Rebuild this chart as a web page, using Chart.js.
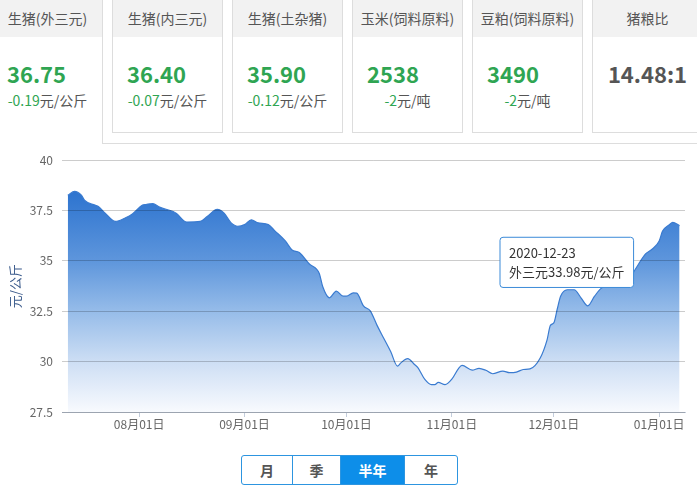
<!DOCTYPE html>
<html>
<head>
<meta charset="utf-8">
<script src="https://cdn.jsdelivr.net/npm/chart.js@4/dist/chart.umd.min.js"></script>
<style>
  html, body { margin: 0; padding: 0; background: #fff; }
  body { width: 697px; height: 487px; overflow: hidden; position: relative;
         font-family: "Noto Sans CJK SC", "Microsoft YaHei", sans-serif; color: #555; }
  .card { position: absolute; top: -2px; width: 111px; height: 135px; box-sizing: border-box;
          border: 1px solid #ddd; background: #fff; }
  .card.active { height: 146px; border-bottom: none; }
  .card .hd { height: 38px; line-height: 38px; background: #f2f2f2; text-align: center;
              font-size: 14px; color: #555; white-space: nowrap; }
  .card .num { position: absolute; left: 14px; top: 59px; line-height: 30px; font-size: 22px;
               font-weight: bold; color: #2fa552; white-space: nowrap; }
  .card .num.ratio { left: 0; right: 0; text-align: center; color: #555; }
  .card .chg { position: absolute; left: 0; right: 0; top: 91px; line-height: 20px; text-align: center;
               font-size: 14px; color: #555; white-space: nowrap; }
  .card .chg .g { color: #2fa552; }
  #panelLine { position: absolute; left: 102px; top: 143px; width: 600px; border-top: 1px solid #ddd; }
  #chartBox { position: absolute; left: 0; top: 144px; width: 697px; height: 288px; }
  #btns { position: absolute; left: 241px; top: 455px; height: 30px; display: flex;
          border: 1px solid #2d95e0; border-radius: 3px; box-sizing: border-box; overflow: hidden; }
  #btns div { height: 28px; line-height: 28px; text-align: center; font-size: 14px; font-weight: bold;
              color: #555; border-left: 1px solid #2d95e0; box-sizing: border-box; }
  #btns div:first-child { border-left: none; }
  #btns div.on { background: #0d8ee9; color: #fff; }
</style>
</head>
<body>
<div id="cards"></div>
<div id="panelLine"></div>
<div id="chartBox"><canvas id="c" width="697" height="288"></canvas></div>
<div id="btns"></div>
<script>
// Quote cards
const cardTitles  = ['生猪(外三元)', '生猪(内三元)', '生猪(土杂猪)', '玉米(饲料原料)', '豆粕(饲料原料)', '猪粮比'];
const cardValues  = ['36.75', '36.40', '35.90', '2538', '3490', '14.48:1'];
const cardChanges = ['-0.19', '-0.07', '-0.12', '-2', '-2', ''];
const cardUnits   = ['元/公斤', '元/公斤', '元/公斤', '元/吨', '元/吨', ''];

// Period switch buttons
const periodNames = ['月', '季', '半年', '年'];
const activePeriod = '半年';

// Daily price of 外三元 live hogs (元/公斤)
const dates = [
  '2020-07-11','2020-07-13','2020-07-15','2020-07-16','2020-07-19','2020-07-20','2020-07-22','2020-07-25',
  '2020-07-28','2020-07-30','2020-08-02','2020-08-03','2020-08-05','2020-08-07','2020-08-11','2020-08-12',
  '2020-08-15','2020-08-19','2020-08-21','2020-08-24','2020-08-26','2020-08-28','2020-08-30','2020-09-01',
  '2020-09-03','2020-09-05','2020-09-08','2020-09-10','2020-09-13','2020-09-15','2020-09-17','2020-09-18',
  '2020-09-20','2020-09-23','2020-09-24','2020-09-26','2020-09-28','2020-09-30','2020-10-01','2020-10-03',
  '2020-10-04','2020-10-06','2020-10-08','2020-10-10','2020-10-12','2020-10-14','2020-10-16','2020-10-17',
  '2020-10-19','2020-10-21','2020-10-22','2020-10-24','2020-10-26','2020-10-27','2020-10-28','2020-10-30',
  '2020-11-01','2020-11-03','2020-11-04','2020-11-07','2020-11-09','2020-11-11','2020-11-13','2020-11-16',
  '2020-11-18','2020-11-20','2020-11-22','2020-11-24','2020-11-27','2020-11-29','2020-11-30','2020-12-01',
  '2020-12-02','2020-12-03','2020-12-05','2020-12-07','2020-12-09','2020-12-11','2020-12-13','2020-12-15',
  '2020-12-18','2020-12-20','2020-12-23','2020-12-24','2020-12-26','2020-12-28','2020-12-30','2021-01-01',
  '2021-01-02','2021-01-04','2021-01-05','2021-01-07'
];
const prices = [
  38.26, 38.45, 38.26, 38.00, 37.77, 37.70, 37.37, 36.96,
  37.14, 37.33, 37.77, 37.80, 37.85, 37.67, 37.45, 37.35,
  36.93, 36.96, 37.20, 37.56, 37.37, 36.90, 36.72, 36.80,
  37.04, 36.89, 36.80, 36.48, 35.99, 35.54, 35.43, 35.27,
  34.86, 34.38, 33.73, 33.17, 33.50, 33.25, 33.25, 33.41,
  33.40, 32.77, 32.52, 31.80, 31.15, 30.50, 29.78, 29.94,
  30.15, 29.86, 29.70, 29.13, 28.86, 28.86, 28.97, 28.86,
  29.13, 29.67, 29.81, 29.58, 29.67, 29.57, 29.40, 29.53,
  29.45, 29.48, 29.61, 29.64, 30.18, 31.07, 31.80, 31.92,
  32.60, 33.25, 33.57, 33.57, 33.17, 32.77, 33.25, 33.65,
  33.80, 33.90, 33.98, 34.30, 34.86, 35.35, 35.59, 35.99,
  36.48, 36.80, 36.91, 36.75
];

// Month-start ticks on the date axis
const tickDates  = ['2020-08-01', '2020-09-01', '2020-10-01', '2020-11-01', '2020-12-01', '2021-01-01'];
const tickLabels = ['08月01日', '09月01日', '10月01日', '11月01日', '12月01日', '01月01日'];

// Value axis ticks
const yTicks = [27.5, 30, 32.5, 35, 37.5, 40];

const highlightDate = '2020-12-23';

// ---- cards ----
const cardsEl = document.getElementById('cards');
cardTitles.forEach((title, i) => {
  const card = document.createElement('div');
  card.className = 'card' + (i === 0 ? ' active' : '');
  card.style.left = (-8 + 120 * i) + 'px';
  const hd = document.createElement('div');
  hd.className = 'hd';
  hd.textContent = title;
  card.appendChild(hd);
  const num = document.createElement('div');
  num.className = 'num' + (cardChanges[i] ? '' : ' ratio');
  num.textContent = cardValues[i];
  card.appendChild(num);
  if (cardChanges[i]) {
    const chg = document.createElement('div');
    chg.className = 'chg';
    const g = document.createElement('span');
    g.className = 'g';
    g.textContent = cardChanges[i];
    chg.appendChild(g);
    chg.appendChild(document.createTextNode(cardUnits[i]));
    card.appendChild(chg);
  }
  cardsEl.appendChild(card);
});

// ---- buttons ----
const btnWidths = [50, 48, 64, 53];
const btnsEl = document.getElementById('btns');
periodNames.forEach((name, i) => {
  const b = document.createElement('div');
  b.textContent = name;
  b.style.width = btnWidths[i] + 'px';
  if (name === activePeriod) b.className = 'on';
  btnsEl.appendChild(b);
});

// ---- chart ----
const DAY = 86400000;
function dayNum(s) {
  const [y, m, d] = s.split('-').map(Number);
  return Date.UTC(y, m - 1, d) / DAY;
}
const day0 = dayNum(dates[0]);
const xOf = s => dayNum(s) - day0;
const points = dates.map((d, i) => ({ x: xOf(d), y: prices[i] }));
const tickDays = tickDates.map(xOf);

const FONT = '"Noto Sans CJK SC", "Microsoft YaHei", sans-serif';

Chart.Tooltip.positioners.nearPoint = function (items) {
  if (!items.length) return false;
  const el = items[0].element;
  return { x: el.x + 2, y: el.y + 6, xAlign: 'right', yAlign: 'bottom' };
};

function areaGradient(context) {
  const chart = context.chart;
  const area = chart.chartArea;
  if (!area) return 'rgba(60,130,215,0.5)';
  const g = chart.ctx.createLinearGradient(0, area.top, 0, area.bottom);
  g.addColorStop(0.0, 'rgb(40,110,204)');
  g.addColorStop(0.12, 'rgb(44,115,207)');
  g.addColorStop(0.40, 'rgb(94,150,220)');
  g.addColorStop(0.60, 'rgb(150,188,233)');
  g.addColorStop(0.80, 'rgb(205,222,244)');
  g.addColorStop(1.0, 'rgb(248,250,254)');
  return g;
}

const chart = new Chart(document.getElementById('c'), {
  type: 'line',
  data: {
    datasets: [{
      label: '外三元',
      data: points,
      borderColor: '#3a7bd0',
      borderWidth: 1.2,
      backgroundColor: areaGradient,
      fill: 'start',
      cubicInterpolationMode: 'monotone',
      pointRadius: 0,
      pointHoverRadius: 5,
      pointHoverBackgroundColor: 'rgba(255,255,255,0.6)',
      pointHoverBorderColor: 'rgba(170,200,236,0.9)',
      pointHoverBorderWidth: 1
    }]
  },
  options: {
    responsive: false,
    animation: false,
    events: [],
    layout: { padding: { top: 10, right: 12, bottom: 0, left: 0 } },
    plugins: {
      legend: { display: false },
      tooltip: {
        enabled: true,
        position: 'nearPoint',
        xAlign: 'right',
        yAlign: 'bottom',
        caretSize: 0,
        caretPadding: 0,
        cornerRadius: 3,
        backgroundColor: '#fff',
        borderColor: '#3b8ad8',
        borderWidth: 1,
        titleColor: '#333',
        bodyColor: '#333',
        titleFont: { family: FONT, size: 13, weight: 'normal' },
        bodyFont: { family: FONT, size: 13 },
        titleMarginBottom: 3,
        padding: { top: 8, bottom: 8, left: 9, right: 9 },
        displayColors: false,
        callbacks: {
          title: items => dates[items[0].dataIndex],
          label: item => '外三元' + prices[item.dataIndex].toFixed(2) + '元/公斤'
        }
      }
    },
    scales: {
      x: {
        type: 'linear',
        min: -1.7,
        max: xOf(dates[dates.length - 1]) + 1.6,
        afterBuildTicks: scale => { scale.ticks = tickDays.map(v => ({ value: v })); },
        afterFit: scale => { scale.height = 20; },
        grid: { drawOnChartArea: false, drawTicks: true, tickLength: 5, color: '#c3cddc' },
        border: { display: true, color: '#c3cddc' },
        ticks: {
          autoSkip: false, maxRotation: 0, padding: 0,
          color: '#666', font: { family: FONT, size: 12 },
          callback: (v, i) => tickLabels[i]
        }
      },
      y: {
        min: yTicks[0],
        max: yTicks[yTicks.length - 1],
        afterBuildTicks: scale => { scale.ticks = yTicks.map(v => ({ value: v })); },
        afterFit: scale => { scale.width = 62; },
        grid: { color: 'rgba(0,0,0,0.2)', drawTicks: false, z: 1 },
        border: { display: false },
        ticks: { padding: 9, color: '#666', font: { family: FONT, size: 12 } },
        title: {
          display: true, text: '元/公斤', color: '#3b5b8c',
          font: { family: FONT, size: 13 }, padding: { top: 7, bottom: 0 }
        }
      }
    }
  }
});

const hi = dates.indexOf(highlightDate);
const active = [{ datasetIndex: 0, index: hi }];
chart.setActiveElements(active);
chart.tooltip.setActiveElements(active, { x: 0, y: 0 });
chart.update();
</script>
</body>
</html>
